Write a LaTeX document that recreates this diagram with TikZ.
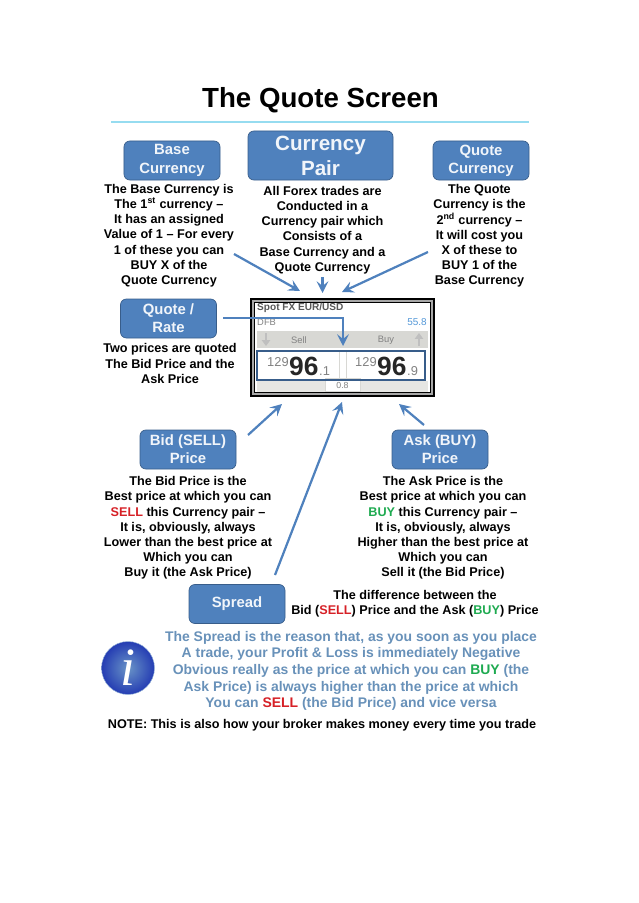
\documentclass[tikz,border=0pt]{standalone}
\usepackage{xcolor}
\usepackage{fontspec}
\setmainfont{Liberation Sans}
\newfontfamily\iconfont{Liberation Serif}
\usetikzlibrary{arrows.meta, positioning, shapes.geometric}
\definecolor{myblue}{RGB}{79,129,189}
\definecolor{myedge}{RGB}{56,93,138}
\definecolor{mysteel}{RGB}{104,145,185}
\definecolor{myrule}{RGB}{150,220,240}
\definecolor{myred}{RGB}{214,32,38}
\definecolor{mygreen}{RGB}{30,170,80}
\definecolor{mygrey}{RGB}{130,130,130}
\definecolor{myband}{RGB}{216,216,212}
\newcommand{\sellword}{\textcolor{myred}{SELL}}
\newcommand{\buyword}{\textcolor{mygreen}{BUY}}
\tikzset{
  bluebox/.style={rectangle, draw=myedge, fill=myblue, text=white!92!myblue,
    minimum width=2.88cm, minimum height=1.17cm, align=center,
    font=\fontsize{12.7}{15.6}\selectfont\bfseries, rounded corners=5pt, line width=0.6pt, inner sep=0pt},
  bigbox/.style={bluebox, minimum width=4.35cm, minimum height=1.47cm,
    font=\fontsize{17.6}{21.2}\selectfont\bfseries},
  bodytext/.style={align=center, inner sep=0pt, font=\fontsize{10.8}{13}\selectfont\bfseries},
  steeltext/.style={align=center, inner sep=0pt, text=mysteel,
    font=\fontsize{11.9}{14.2}\selectfont\bfseries},
  arrow/.style={-{Stealth[length=10pt, width=10pt, inset=4pt]}, line width=1.9pt, color=myblue},
  screentext/.style={inner sep=0pt, text=mygrey, font=\fontsize{8}{8}\selectfont},
  pricesmall/.style={inner sep=0pt, text=mygrey, font=\fontsize{11}{11}\selectfont},
  pricebig/.style={inner sep=0pt, text=black!85, font=\fontsize{22.5}{23}\selectfont\bfseries}
}
\begin{document}
\begin{tikzpicture}[x=0.03cm, y=-0.03cm]
  \useasboundingbox (0,0) rectangle (638,903);

  % Heading
  \node[inner sep=0pt, font=\fontsize{23.6}{26}\selectfont\bfseries] (title) at (320.5,100) {The Quote Screen};
  \coordinate (rule_l) at (111,122);
  \coordinate (rule_r) at (529,122);
  \draw[myrule, line width=1.5pt] (rule_l) -- (rule_r);

  % Boxes
  \node[bluebox] (base) at (172,160.5) {Base\\Currency};
  \node[bigbox] (pair) at (320.5,155.5) {Currency\\Pair};
  \node[bluebox] (quote) at (481,160.5) {Quote\\Currency};
  \node[bluebox] (rate) at (168.5,318.5) {Quote /\\Rate};
  \node[bluebox] (bid) at (188,449.5) {Bid (SELL)\\Price};
  \node[bluebox] (ask) at (440,449.5) {Ask (BUY)\\Price};
  \node[bluebox] (spread) at (237,604) {Spread};

  % Text under the boxes
  \node[bodytext] (base_txt) at (169,235.5) {The Base Currency is\\The 1\textsuperscript{st} currency --\\It has an assigned\\Value of 1 -- For every\\1 of these you can\\BUY X of the\\Quote Currency};
  \node[bodytext] (pair_txt) at (322.5,230) {All Forex trades are\\Conducted in a\\Currency pair which\\Consists of a\\Base Currency and a\\Quote Currency};
  \node[bodytext] (quote_txt) at (479.5,236) {The Quote\\Currency is the\\2\textsuperscript{nd} currency --\\It will cost you\\X of these to\\BUY 1 of the\\Base Currency};
  \node[bodytext] (rate_txt) at (170,363.5) {Two prices are quoted\\The Bid Price and the\\Ask Price};
  \node[bodytext] (bid_txt) at (188,528) {The Bid Price is the\\Best price at which you can\\\sellword{} this Currency pair --\\It is, obviously, always\\Lower than the best price at\\Which you can\\Buy it (the Ask Price)};
  \node[bodytext] (ask_txt) at (443,528) {The Ask Price is the\\Best price at which you can\\\buyword{} this Currency pair --\\It is, obviously, always\\Higher than the best price at\\Which you can\\Sell it (the Bid Price)};
  \node[bodytext] (spread_txt) at (415,604) {The difference between the\\Bid (\sellword) Price and the Ask (\buyword) Price};

  % Quote screen
  \node[rectangle, draw=black, line width=1.7pt, fill=mygrey!70, minimum width=5.5cm, minimum height=2.93cm, inner sep=0pt] (frame) at (342.5,347.5) {};
  \node[rectangle, draw=black, line width=0.7pt, fill=white, minimum width=5.26cm, minimum height=2.69cm, inner sep=0pt] (panel) at (342.5,347.5) {};
  \node[rectangle, fill=myband, minimum width=5.13cm, minimum height=0.5cm, inner sep=0pt] (band) at (342.5,339.5) {};
  \node[rectangle, fill=myband!65, minimum width=5.13cm, minimum height=0.33cm, inner sep=0pt] (strip) at (342.5,386) {};
  \node[rectangle, draw=myband, fill=white, line width=0.8pt, minimum width=1.05cm, minimum height=0.38cm, inner sep=0pt, text=mygrey, font=\fontsize{7.5}{8}\selectfont] (gap) at (342.5,385) {0.8};
  \node[screentext, anchor=west, text=black!65, font=\fontsize{8.6}{9}\selectfont\bfseries] (spot) at (257,308) {Spot FX EUR/USD};
  \node[screentext, anchor=west] (dfb) at (257,322) {DFB};
  \node[screentext, anchor=east, text=cyan!60!blue!70, font=\fontsize{8.5}{9}\selectfont] (pips) at (427,322) {55.8};
  \node[screentext] (sell) at (299,340) {Sell};
  \node[screentext] (buy) at (386,340) {Buy};
  \coordinate (dn_a) at (266,333);
  \coordinate (dn_b) at (266,346);
  \coordinate (up_a) at (419,346);
  \coordinate (up_b) at (419,333);
  \draw[-{Triangle[length=5pt, width=7pt]}, line width=2.4pt, color=black!25] (dn_a) -- (dn_b);
  \draw[-{Triangle[length=5pt, width=7pt]}, line width=2.4pt, color=black!25] (up_a) -- (up_b);
  \coordinate (div_a) at (339,351);
  \coordinate (div_b) at (339,381);
  \coordinate (div_c) at (346,351);
  \coordinate (div_d) at (346,381);
  \draw[myband, line width=0.8pt] (div_a) -- (div_b);
  \draw[myband, line width=0.8pt] (div_c) -- (div_d);
  \node[rectangle, draw=myedge, line width=1.3pt, minimum width=5.04cm, minimum height=0.88cm, inner sep=0pt] (prices) at (341,365.5) {};
  \node[pricesmall, anchor=west] (sell_a) at (267,362) {129};
  \node[pricebig, anchor=west] (sell_b) at (289,366.5) {96};
  \node[pricesmall, anchor=west] (sell_c) at (319,371) {.1};
  \node[pricesmall, anchor=west] (buy_a) at (355,362) {129};
  \node[pricebig, anchor=west] (buy_b) at (377,366.5) {96};
  \node[pricesmall, anchor=west] (buy_c) at (407,371) {.9};

  % Arrows to the screen
  \coordinate (base_tail) at (234,254);
  \coordinate (base_tip) at (300,291);
  \coordinate (pair_tail) at (322.5,277);
  \coordinate (pair_tip) at (322.5,293);
  \coordinate (quote_tail) at (428,252);
  \coordinate (quote_tip) at (342,292);
  \coordinate (rate_tail) at (223,318);
  \coordinate (rate_bend) at (343,318);
  \coordinate (rate_tip) at (343,346);
  \coordinate (bid_tail) at (248,435);
  \coordinate (bid_tip) at (282,404);
  \coordinate (spread_tail) at (275,575);
  \coordinate (spread_tip) at (342,402);
  \coordinate (ask_tail) at (424,425);
  \coordinate (ask_tip) at (399,404);
  \draw[arrow] (base_tail) -- (base_tip);
  \draw[arrow] (pair_tail) -- (pair_tip);
  \draw[arrow] (quote_tail) -- (quote_tip);
  \draw[arrow] (rate_tail) -- (rate_bend) -- (rate_tip);
  \draw[arrow] (bid_tail) -- (bid_tip);
  \draw[arrow] (spread_tail) -- (spread_tip);
  \draw[arrow] (ask_tail) -- (ask_tip);

  % Info icon and note
  \node[circle, minimum size=1.59cm, inner sep=0pt, shading=radial, inner color=myblue!85!white, outer color=blue!35!myedge, draw=myblue!60] (info) at (128,668) {};
  \node[inner sep=0pt, text=white, font=\iconfont\fontsize{46}{46}\selectfont\itshape] (info_i) at (info) {i};
  \node[steeltext] (reason) at (351,671) {The Spread is the reason that, as you soon as you place\\A trade, your Profit \& Loss is immediately Negative\\Obvious really as the price at which you can \buyword{} (the\\Ask Price) is always higher than the price at which\\You can \sellword{} (the Bid Price) and vice versa};
  \node[bodytext] (note) at (322,725) {NOTE: This is also how your broker makes money every time you trade};
\end{tikzpicture}
\end{document}
